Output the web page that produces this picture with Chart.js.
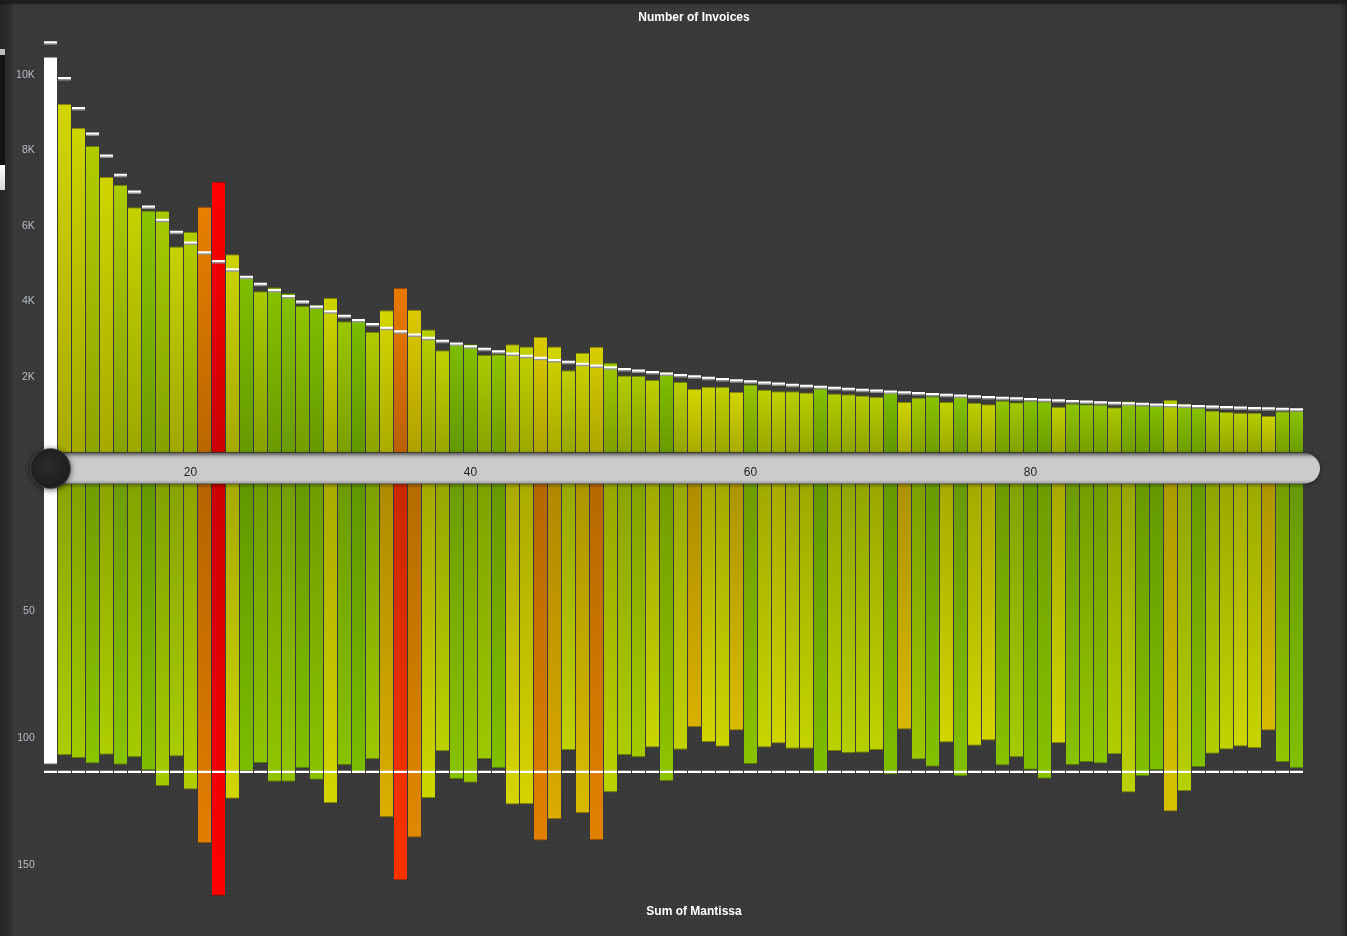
<!DOCTYPE html>
<html>
<head>
<meta charset="utf-8">
<script src="https://cdn.jsdelivr.net/npm/chart.js@4.4.1/dist/chart.umd.min.js"></script>
<style>
html, body { margin:0; padding:0; width:1347px; height:936px; overflow:hidden; }
body {
  position:relative;
  background-color:#393939;
  background-image:
    repeating-linear-gradient(90deg, rgba(255,255,255,0.02) 0 1px, rgba(0,0,0,0) 1px 3px),
    repeating-linear-gradient(0deg, rgba(0,0,0,0.05) 0 1px, rgba(0,0,0,0) 1px 4px);
}
.deco { position:absolute; }
#edgeTop { left:0; top:0; width:1347px; height:3px; background:#1e1e1e; box-shadow:0 1px 2px rgba(0,0,0,0.5); }
#edgeLeft { left:0; top:0; width:13px; height:936px; background:linear-gradient(90deg,#262626,#2d2d2d 70%,#353535); }
#edgeRight { right:0; top:0; width:8px; height:936px; background:linear-gradient(90deg,rgba(0,0,0,0),rgba(0,0,0,0.35)); }
#mk1 { left:0; top:49px; width:5px; height:6px; background:#bdbdbd; }
#mk2 { left:0; top:55px; width:5px; height:110px; background:#131313; }
#mk3 { left:0; top:165px; width:5px; height:25px; background:linear-gradient(180deg,#ffffff,#d8d8d8); }
canvas { position:absolute; left:0; }
#topChart { top:0; z-index:2; }
#bottomChart { top:469px; z-index:1; }
</style>
</head>
<body>
<div class="deco" id="edgeLeft"></div>
<div class="deco" id="edgeRight"></div>
<div class="deco" id="edgeTop"></div>
<div class="deco" id="mk1"></div>
<div class="deco" id="mk2"></div>
<div class="deco" id="mk3"></div>
<canvas id="bottomChart" width="1388" height="467"></canvas>
<canvas id="topChart" width="1388" height="500"></canvas>
<script>
// ---------------- data ----------------
const leadingDigits = [10,11,12,13,14,15,16,17,18,19,20,21,22,23,24,25,26,27,28,29,
  30,31,32,33,34,35,36,37,38,39,40,41,42,43,44,45,46,47,48,49,
  50,51,52,53,54,55,56,57,58,59,60,61,62,63,64,65,66,67,68,69,
  70,71,72,73,74,75,76,77,78,79,80,81,82,83,84,85,86,87,88,89,
  90,91,92,93,94,95,96,97,98,99];

const invoiceCounts = [10480,9230,8600,8120,7300,7090,6500,6410,6400,5460,
  5840,6510,7170,5250,4620,4270,4380,4220,3890,3900,
  4090,3480,3520,3200,3770,4360,3780,3260,2710,2910,
  2870,2580,2600,2870,2810,3060,2810,2180,2640,2800,
  2380,2040,2030,1920,2130,1870,1680,1740,1740,1600,
  1800,1660,1620,1620,1590,1700,1560,1540,1510,1480,
  1610,1340,1460,1490,1340,1470,1320,1280,1380,1330,
  1380,1360,1210,1300,1280,1270,1200,1360,1250,1240,
  1400,1300,1190,1110,1070,1050,1050,970,1090,1100];

const expectedInvoiceCounts = [10870,9923,9128,8452,7868,7360,6914,6519,6166,5850,
  5564,5305,5070,4854,4656,4473,4304,4148,4002,3866,
  3740,3621,3509,3405,3306,3213,3125,3041,2962,2887,
  2816,2748,2684,2622,2563,2507,2453,2401,2352,2304,
  2258,2215,2172,2132,2093,2055,2019,1983,1950,1917,
  1885,1854,1825,1796,1768,1741,1715,1690,1665,1641,
  1618,1595,1573,1552,1531,1511,1491,1472,1453,1435,
  1417,1399,1382,1366,1350,1334,1318,1303,1289,1274,
  1260,1246,1233,1220,1207,1194,1182,1170,1158,1146];

const mantissaSums = [110.4,106.8,107.9,110.0,106.6,110.5,107.6,112.7,118.9,107.3,
  120.3,141.3,162.1,123.9,113.0,109.8,117.2,117.2,111.9,116.4,
  125.7,110.6,113.4,108.4,131.2,156.0,139.2,123.6,105.2,116.1,
  117.6,108.3,111.9,126.2,126.1,140.4,132.0,104.7,129.5,140.2,
  121.4,106.7,107.6,103.7,116.9,104.6,95.8,101.6,103.4,97.0,
  110.2,103.7,102.2,104.2,104.2,113.9,105.1,105.9,105.8,104.7,
  114.4,96.7,108.5,111.3,101.8,115.1,103.1,101.0,110.8,107.6,
  112.5,116.0,102.1,110.6,109.4,110.0,106.4,121.5,115.1,112.6,
  128.9,120.9,111.5,106.2,104.5,103.3,103.9,97.0,109.4,111.9];

const expectedMantissaSums = [113.3,113.3,113.3,113.3,113.3,113.3,113.3,113.3,113.3,113.3,
  113.3,113.3,113.3,113.3,113.3,113.3,113.3,113.3,113.3,113.3,
  113.3,113.3,113.3,113.3,113.3,113.3,113.3,113.3,113.3,113.3,
  113.3,113.3,113.3,113.3,113.3,113.3,113.3,113.3,113.3,113.3,
  113.3,113.3,113.3,113.3,113.3,113.3,113.3,113.3,113.3,113.3,
  113.3,113.3,113.3,113.3,113.3,113.3,113.3,113.3,113.3,113.3,
  113.3,113.3,113.3,113.3,113.3,113.3,113.3,113.3,113.3,113.3,
  113.3,113.3,113.3,113.3,113.3,113.3,113.3,113.3,113.3,113.3,
  113.3,113.3,113.3,113.3,113.3,113.3,113.3,113.3,113.3,113.3];

const selectedDigit = 10;
const xTickLabels = [20, 40, 60, 80];
const invoiceTickValues = [2000, 4000, 6000, 8000, 10000];
const mantissaTickValues = [50, 100, 150];
const invoiceAxisMax = 11000;
const mantissaAxisMax = 165;

// ---------------- styling helpers ----------------
const FONT = "'Liberation Sans', Arial, Helvetica, sans-serif";
// colour scale for the invoice counts: |O-E| / sqrt(E)
const topStops = [[0,[120,188,0]],[1.5,[138,196,0]],[3.5,[176,204,0]],[5.5,[204,212,0]],
  [8,[214,214,0]],[12,[220,200,0]],[16,[232,128,0]],[21,[234,120,0]],[29,[255,0,0]]];
// colour scale for the mantissa sums: |O-E| / E
const bottomStops = [[0,[120,188,0]],[0.03,[140,196,0]],[0.06,[176,206,0]],[0.09,[206,214,0]],
  [0.12,[216,212,0]],[0.15,[216,180,0]],[0.17,[220,168,0]],[0.24,[226,128,0]],
  [0.36,[240,80,0]],[0.38,[255,44,0]],[0.43,[255,0,0]]];

function scaleColor(stops, v) {
  if (v <= stops[0][0]) return stops[0][1];
  for (let i = 1; i < stops.length; i++) {
    if (v <= stops[i][0]) {
      const [a, ca] = stops[i-1], [b, cb] = stops[i];
      const t = (v - a) / (b - a);
      return ca.map((c, k) => c + (cb[k] - c) * t);
    }
  }
  return stops[stops.length-1][1];
}
function rgb(c, f) {
  f = f || 1;
  return 'rgb(' + Math.round(c[0]*f) + ',' + Math.round(c[1]*f) + ',' + Math.round(c[2]*f) + ')';
}
const topTips = invoiceCounts.map((v, i) =>
  scaleColor(topStops, Math.abs(v - expectedInvoiceCounts[i]) / Math.sqrt(expectedInvoiceCounts[i])));
const bottomTips = mantissaSums.map((v, i) =>
  scaleColor(bottomStops, Math.abs(v - expectedMantissaSums[i]) / expectedMantissaSums[i]));

function barFill(tips) {
  return (ctx) => {
    const i = ctx.dataIndex;
    if (leadingDigits[i] === selectedDigit) return '#ffffff';
    const c = tips[i];
    const chart = ctx.chart;
    if (!chart.chartArea || ctx.type !== 'data' || !ctx.parsed) return rgb(c);
    const ys = chart.scales.y;
    const yTip = ys.getPixelForValue(ctx.parsed.y);
    const yBase = ys.getPixelForValue(0);
    if (!isFinite(yTip) || !isFinite(yBase) || yTip === yBase) return rgb(c);
    const g = chart.ctx.createLinearGradient(0, yTip, 0, yBase);
    g.addColorStop(0, rgb(c));
    g.addColorStop(1, rgb(c, 0.8));
    return g;
  };
}
function barEdge(tips) {
  return (ctx) => leadingDigits[ctx.dataIndex] === selectedDigit ? '#9a9a9a' : rgb(tips[ctx.dataIndex], 0.62);
}

// slider (range selector) drawn between the two panels
const sliderPlugin = {
  id: 'rangeSlider',
  afterDatasetsDraw(chart) {
    const {ctx, chartArea: ca, scales: {x}} = chart;
    const sel = leadingDigits.indexOf(selectedDigit);
    const cx = x.getPixelForValue(sel);
    const step = x.getPixelForValue(sel + 1) - cx;
    const bw = step * 13 / 14;
    const top = ca.bottom, bot = ca.bottom + 31.5;
    ctx.save();
    ctx.fillStyle = '#ffffff';
    ctx.fillRect(cx - bw/2, top - 0.5, bw, bot - top + 1);
    const l = cx + bw/2, r = ca.right + 16.5, t = top + 1, b = bot - 0.5;
    const rad = (b - t) / 2;
    ctx.shadowColor = 'rgba(0,0,0,0.55)';
    ctx.shadowBlur = 4;
    ctx.shadowOffsetY = 1;
    ctx.beginPath();
    ctx.roundRect(l, t, r - l, b - t, [0, rad, rad, 0]);
    ctx.fillStyle = '#cbcbcb';
    ctx.fill();
    ctx.shadowColor = 'rgba(0,0,0,0)';
    ctx.save();
    ctx.clip();
    const g = ctx.createLinearGradient(0, t, 0, b);
    g.addColorStop(0, 'rgba(0,0,0,0.5)');
    g.addColorStop(0.09, 'rgba(0,0,0,0.15)');
    g.addColorStop(0.2, 'rgba(0,0,0,0)');
    g.addColorStop(0.88, 'rgba(0,0,0,0)');
    g.addColorStop(1, 'rgba(0,0,0,0.2)');
    ctx.fillStyle = g;
    ctx.fillRect(l, t, r - l, b - t);
    ctx.restore();
    // knob
    const cy = (t + b) / 2;
    ctx.shadowColor = 'rgba(0,0,0,0.7)';
    ctx.shadowBlur = 6;
    ctx.shadowOffsetY = 1;
    ctx.beginPath();
    ctx.arc(cx, cy, 20, 0, Math.PI * 2);
    const kg = ctx.createRadialGradient(cx - 4, cy - 5, 2, cx, cy, 20);
    kg.addColorStop(0, '#2a2a2a');
    kg.addColorStop(1, '#1e1e1e');
    ctx.fillStyle = kg;
    ctx.fill();
    ctx.shadowColor = 'rgba(0,0,0,0)';
    ctx.lineWidth = 1;
    ctx.strokeStyle = 'rgba(90,90,90,0.6)';
    ctx.stroke();
    ctx.restore();
  }
};
const markerShadow = {
  id: 'markerShadow',
  beforeDatasetDraw(chart, args) {
    if (args.index === 0) {
      const c = chart.ctx;
      c.save();
      c.shadowColor = 'rgba(150,150,150,0.95)';
      c.shadowOffsetY = 1.5;
      c.shadowBlur = 0;
    }
  },
  afterDatasetDraw(chart, args) {
    if (args.index === 0) chart.ctx.restore();
  }
};

const labels = leadingDigits.map(String);

function yAxis(extra) {
  return Object.assign({
    grid: { display: false, drawTicks: false },
    border: { display: false },
    afterFit: (s) => { s.width = 43.5; }
  }, extra);
}
// invisible right-hand spacer axis (keeps the title centred like the original page)
const spacerAxis = {
  position: 'right', display: true, min: 0, max: 1,
  grid: { display: false, drawTicks: false }, border: { display: false },
  ticks: { display: false },
  afterFit: (s) => { s.width = 84.5; }
};

new Chart(document.getElementById('topChart'), {
  type: 'bar',
  data: {
    labels,
    datasets: [
      { type: 'line', data: expectedInvoiceCounts, showLine: false, pointStyle: 'line',
        pointRadius: 6.5, pointHoverRadius: 6.5, pointBorderWidth: 2,
        pointBorderColor: '#ffffff', pointBackgroundColor: '#ffffff', order: 0 },
      { type: 'bar', data: invoiceCounts, backgroundColor: barFill(topTips), borderColor: barEdge(topTips),
        borderWidth: { top: 1, right: 0, bottom: 0, left: 0 }, borderSkipped: false,
        barPercentage: 13/14, categoryPercentage: 1, order: 1 }
    ]
  },
  options: {
    responsive: false, animation: false, events: [],
    layout: { autoPadding: false, padding: 0 },
    plugins: {
      legend: { display: false },
      tooltip: { enabled: false },
      title: { display: true, text: 'Number of Invoices', color: '#ffffff',
        font: { family: FONT, size: 12, weight: 'bold' }, padding: { top: 10, bottom: 12.85 } }
    },
    scales: {
      x: {
        grid: { display: false, drawTicks: false },
        border: { display: false },
        ticks: { z: 1, autoSkip: false, maxRotation: 0, color: '#222222', padding: 13,
          font: { family: FONT, size: 12 },
          callback: (v, i) => xTickLabels.includes(leadingDigits[i]) ? String(leadingDigits[i]) : null },
        afterFit: (s) => { s.height = 47.5; }
      },
      y: yAxis({
        min: 0, max: invoiceAxisMax,
        afterBuildTicks: (s) => { s.ticks = invoiceTickValues.map(v => ({ value: v })); },
        ticks: { autoSkip: false, color: '#b8bec8', padding: 8.7,
          font: { family: FONT, size: 10.5 },
          callback: (v) => (v / 1000) + 'K' }
      }),
      yRight: spacerAxis
    }
  },
  plugins: [sliderPlugin, markerShadow]
});

new Chart(document.getElementById('bottomChart'), {
  type: 'bar',
  data: {
    labels,
    datasets: [
      { type: 'line', data: expectedMantissaSums, showLine: false, pointStyle: 'line',
        pointRadius: 6.5, pointHoverRadius: 6.5, pointBorderWidth: 2.2,
        pointBorderColor: '#ffffff', pointBackgroundColor: '#ffffff', order: 0 },
      { type: 'bar', data: mantissaSums, backgroundColor: barFill(bottomTips), borderColor: barEdge(bottomTips),
        borderWidth: { top: 0, right: 0, bottom: 1, left: 0 }, borderSkipped: false,
        barPercentage: 13/14, categoryPercentage: 1, order: 1 }
    ]
  },
  options: {
    responsive: false, animation: false, events: [],
    layout: { autoPadding: false, padding: 0 },
    plugins: {
      legend: { display: false },
      tooltip: { enabled: false },
      title: { display: true, position: 'bottom', text: 'Sum of Mantissa', color: '#ffffff',
        font: { family: FONT, size: 12, weight: 'bold' }, padding: { top: 1, bottom: 17.5 } }
    },
    scales: {
      x: { display: false },
      y: yAxis({
        reverse: true, min: 0, max: mantissaAxisMax,
        afterBuildTicks: (s) => { s.ticks = mantissaTickValues.map(v => ({ value: v })); },
        ticks: { autoSkip: false, color: '#b8bec8', padding: 8.7,
          font: { family: FONT, size: 10.5 },
          callback: (v) => String(v) }
      }),
      yRight: spacerAxis
    }
  }
});
</script>
</body>
</html>
